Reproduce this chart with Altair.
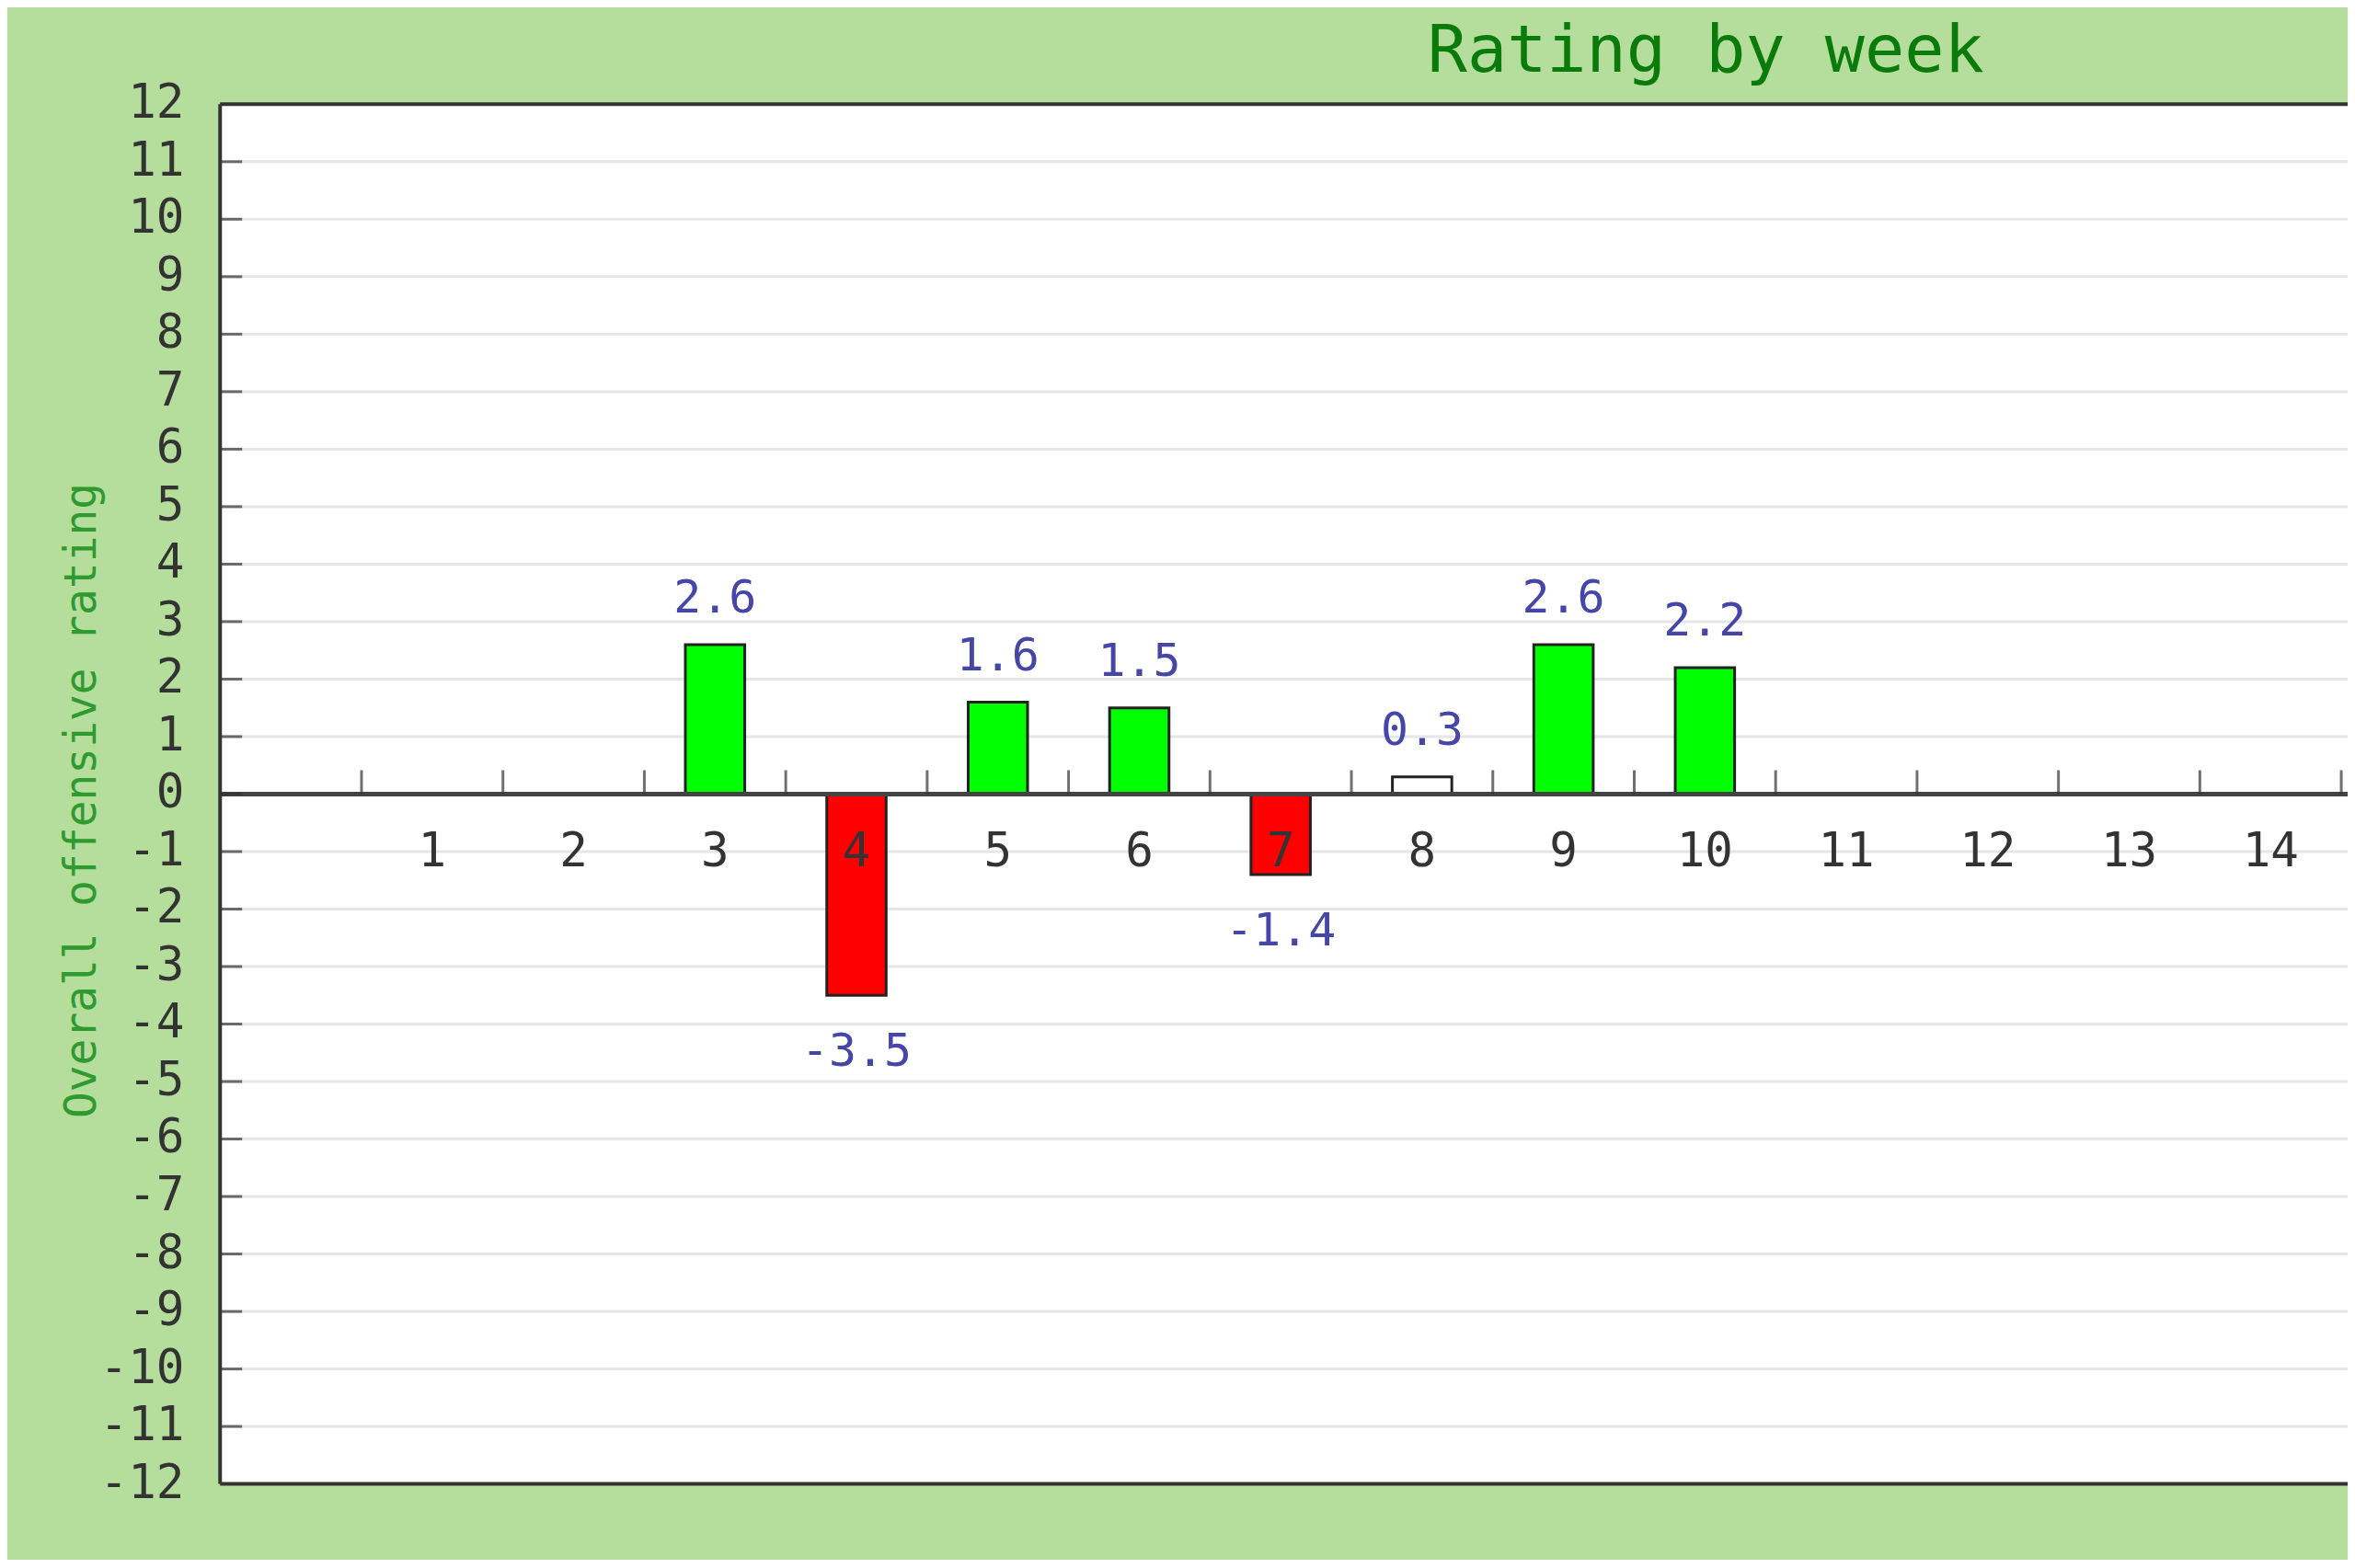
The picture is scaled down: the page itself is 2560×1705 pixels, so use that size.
import altair as alt
import pandas as pd

# ---- data ----
weeks = [3, 4, 5, 6, 7, 8, 9, 10]
ratings = [2.6, -3.5, 1.6, 1.5, -1.4, 0.3, 2.6, 2.2]
value_labels = ["2.6", "-3.5", "1.6", "1.5", "-1.4", "0.3", "2.6", "2.2"]
week_labels = list(range(1, 15))
week_boundaries = [w + 0.5 for w in range(0, 21)]
y_ticks = list(range(-12, 13))
inner_ticks = list(range(-11, 12))
y_domain = [-12, 12]
chart_title = "Rating by week"
y_title = "Overall offensive rating"

FONT = "DejaVu Sans Mono"
W, H = 2320, 1505

bars_df = pd.DataFrame({"week": weeks, "rating": ratings, "label": value_labels})
weeks_df = pd.DataFrame({"week": week_labels, "label": [str(w) for w in week_labels]})
bounds_df = pd.DataFrame({"b": week_boundaries})
yt_df = pd.DataFrame({"t": inner_ticks})
yall_df = pd.DataFrame({"t": y_ticks, "label": [str(t) for t in y_ticks]})
frame_df = pd.DataFrame({"v": y_domain})
ytitle_df = pd.DataFrame({"text": [y_title]})

xs = alt.Scale(domain=[-0.5, 14.545], nice=False, zero=False)
ys = alt.Scale(domain=y_domain, nice=False, zero=False)

grid = (
    alt.Chart(yt_df)
    .mark_rule(color="#e6e6e6", strokeWidth=3)
    .encode(y=alt.Y("t:Q", scale=ys, axis=None))
)

bars = (
    alt.Chart(bars_df)
    .transform_calculate(
        lo="datum.week - 0.21", hi="datum.week + 0.21", zero="0",
        status="datum.rating < 0 ? 'neg' : (datum.rating < 0.5 ? 'neutral' : 'pos')",
    )
    .mark_bar(stroke="#222222", strokeWidth=3)
    .encode(
        x=alt.X("lo:Q", scale=xs, axis=None),
        x2="hi:Q",
        y=alt.Y("rating:Q", scale=ys, axis=None),
        y2="zero:Q",
        color=alt.Color("status:N", scale=alt.Scale(domain=["pos", "neg", "neutral"],
                                                    range=["#00ff00", "#ff0000", "#ffffff"]),
                        legend=None),
    )
)

frame = alt.Chart(frame_df).mark_rule(color="#333333", strokeWidth=4).encode(
    y=alt.Y("v:Q", scale=ys, axis=None))

left_line = (
    alt.Chart(frame_df)
    .transform_aggregate(n="count()")
    .transform_calculate(left="-0.5")
    .mark_rule(color="#333333", strokeWidth=4)
    .encode(x=alt.X("left:Q", scale=xs, axis=None))
)

zero_line = (
    alt.Chart(frame_df)
    .transform_aggregate(n="count()")
    .transform_calculate(zero="0")
    .mark_rule(color="#444444", strokeWidth=5)
    .encode(y=alt.Y("zero:Q", scale=ys, axis=None))
)

y_inner = (
    alt.Chart(yt_df)
    .transform_calculate(left="-0.5")
    .mark_tick(orient="horizontal", size=24, thickness=3, color="#333333", xOffset=12)
    .encode(x=alt.X("left:Q", scale=xs, axis=None), y=alt.Y("t:Q", scale=ys, axis=None))
)

y_labels = (
    alt.Chart(yall_df)
    .transform_calculate(left="-0.5")
    .mark_text(font=FONT, fontSize=51, color="#333333", align="right", baseline="middle",
               dx=-39)
    .encode(x=alt.X("left:Q", scale=xs, axis=None), y=alt.Y("t:Q", scale=ys, axis=None),
            text="label:N")
)

y_title_mark = (
    alt.Chart(ytitle_df)
    .transform_calculate(left="-0.5", zero="0")
    .mark_text(font=FONT, fontSize=48, color="#2f9a2f", angle=270, align="center",
               baseline="middle", xOffset=-150, yOffset=7)
    .encode(x=alt.X("left:Q", scale=xs, axis=None), y=alt.Y("zero:Q", scale=ys, axis=None),
            text="text:N")
)

x_ticks = (
    alt.Chart(bounds_df)
    .transform_calculate(zero="0")
    .mark_tick(orient="vertical", size=26, thickness=3, color="#333333", yOffset=-13, clip=True)
    .encode(x=alt.X("b:Q", scale=xs, axis=None), y=alt.Y("zero:Q", scale=ys, axis=None))
)

x_labels = (
    alt.Chart(weeks_df)
    .transform_calculate(zero="0")
    .mark_text(font=FONT, fontSize=51, color="#333333", dy=64, baseline="middle")
    .encode(x=alt.X("week:Q", scale=xs, axis=None), y=alt.Y("zero:Q", scale=ys, axis=None),
            text="label:N")
)

pos_labels = (
    alt.Chart(bars_df)
    .transform_filter("datum.rating >= 0")
    .mark_text(font=FONT, fontSize=50, color="#4646a8", dy=-50, baseline="middle")
    .encode(x=alt.X("week:Q", scale=xs, axis=None), y=alt.Y("rating:Q", scale=ys, axis=None),
            text="label:N")
)
neg_labels = (
    alt.Chart(bars_df)
    .transform_filter("datum.rating < 0")
    .mark_text(font=FONT, fontSize=50, color="#4646a8", dy=62, baseline="middle")
    .encode(x=alt.X("week:Q", scale=xs, axis=None), y=alt.Y("rating:Q", scale=ys, axis=None),
            text="label:N")
)

chart = (
    alt.layer(grid, bars, zero_line, x_ticks, y_inner, frame, left_line, y_labels,
              y_title_mark, x_labels, pos_labels, neg_labels)
    .properties(
        width=W, height=H,
        title=alt.TitleParams(chart_title, font=FONT, fontSize=72, fontWeight="normal",
                              color="#0a7a0a", anchor="middle", frame="group", dx=460,
                              dy=68, offset=5, baseline="alphabetic"),
        autosize=alt.AutoSizeParams(type="none"),
        padding={"left": 232, "top": 103, "right": 0, "bottom": 80},
    )
    .configure(background="#b5dd9c")
    .configure_view(fill="white", stroke="transparent")
)

chart.save("out.html", embed_options={"renderer": "svg", "actions": False})
